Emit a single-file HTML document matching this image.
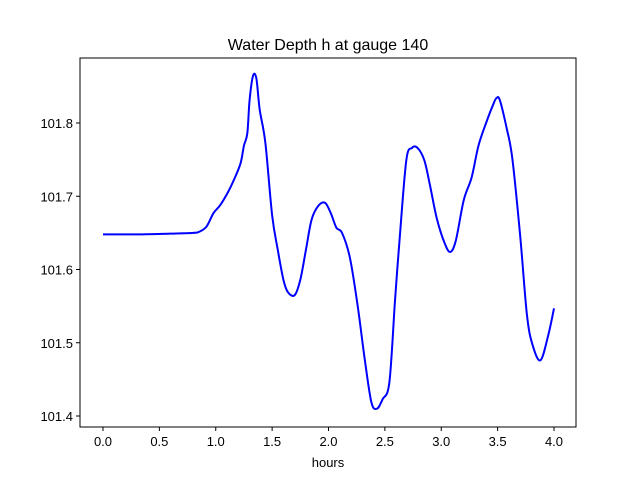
<!DOCTYPE html>
<html><head><meta charset="utf-8"><style>
body{margin:0;background:#fff}
svg{display:block;font-family:"Liberation Sans",sans-serif}
</style></head><body>
<svg id="chart" width="640" height="480">
<rect width="640" height="480" fill="#fff"/>
<text x="328" y="50" text-anchor="middle" font-size="16">Water Depth h at gauge 140</text>
<g id="plot"></g>
<rect x="80" y="58" width="496" height="369" fill="none" stroke="#000" stroke-width="1"/>
<text x="328" y="467" text-anchor="middle" font-size="13">hours</text>
</svg>
<script>
const xs=[0,0.3,0.6,0.8,0.86,0.92,0.98,1.04,1.11,1.16,1.22,1.25,1.28,1.30,1.33,1.36,1.39,1.44,1.50,1.55,1.60,1.64,1.70,1.75,1.80,1.85,1.91,1.97,2.02,2.07,2.12,2.19,2.26,2.32,2.38,2.43,2.48,2.54,2.59,2.63,2.69,2.74,2.79,2.85,2.90,2.96,3.03,3.08,3.13,3.20,3.27,3.33,3.40,3.46,3.49,3.52,3.58,3.63,3.70,3.76,3.81,3.88,3.95,4.00];
const ys=[101.648,101.648,101.649,101.650,101.652,101.659,101.677,101.688,101.706,101.722,101.745,101.769,101.786,101.831,101.864,101.861,101.818,101.773,101.674,101.627,101.586,101.569,101.565,101.586,101.627,101.668,101.687,101.691,101.677,101.657,101.650,101.616,101.549,101.479,101.419,101.410,101.423,101.446,101.558,101.640,101.749,101.766,101.766,101.749,101.715,101.670,101.636,101.624,101.640,101.695,101.726,101.769,101.801,101.825,101.834,101.831,101.793,101.752,101.646,101.538,101.497,101.476,101.511,101.547];
const xTicks=[0,0.5,1,1.5,2,2.5,3,3.5,4];
const xTickLabels=["0.0","0.5","1.0","1.5","2.0","2.5","3.0","3.5","4.0"];
const yTicks=[101.4,101.5,101.6,101.7,101.8];
const yTickLabels=["101.4","101.5","101.6","101.7","101.8"];
const X=v=>103+v*112.75, Y=v=>416-(v-101.4)*732.5;
const NS="http://www.w3.org/2000/svg", g=document.getElementById('plot');
xTicks.forEach((t,i)=>{
 const l=document.createElementNS(NS,'line');
 l.setAttribute('x1',X(t));l.setAttribute('x2',X(t));l.setAttribute('y1',427);l.setAttribute('y2',431);l.setAttribute('stroke','#000');
 
 
 g.appendChild(l);
 const tx=document.createElementNS(NS,'text');
 tx.setAttribute('x',X(t));tx.setAttribute('y',446);tx.setAttribute('text-anchor','middle');tx.setAttribute('font-size','13');tx.textContent=xTickLabels[i];
 
 
 g.appendChild(tx);
});
yTicks.forEach((t,i)=>{
 const l=document.createElementNS(NS,'line');
 l.setAttribute('x1',76);l.setAttribute('x2',80);l.setAttribute('y1',Y(t));l.setAttribute('y2',Y(t));l.setAttribute('stroke','#000');
 
 
 g.appendChild(l);
 const tx=document.createElementNS(NS,'text');
 tx.setAttribute('x',73);tx.setAttribute('y',Y(t)+5);tx.setAttribute('text-anchor','end');tx.setAttribute('font-size','13');tx.textContent=yTickLabels[i];
 
 
 g.appendChild(tx);
});
const P=xs.map((v,i)=>[X(v),Y(ys[i])]);
let d='M'+P[0][0]+','+P[0][1];
for(let i=0;i<P.length-1;i++){
 const p0=P[Math.max(0,i-1)],p1=P[i],p2=P[i+1],p3=P[Math.min(P.length-1,i+2)];
 const c1=[p1[0]+(p2[0]-p0[0])/6,p1[1]+(p2[1]-p0[1])/6];
 const c2=[p2[0]-(p3[0]-p1[0])/6,p2[1]-(p3[1]-p1[1])/6];
 d+=' C'+c1.join(',')+' '+c2.join(',')+' '+p2.join(',');
}
const p=document.createElementNS(NS,'path');
p.setAttribute('d',d);
p.setAttribute('fill','none');p.setAttribute('stroke','#0000ff');p.setAttribute('stroke-width','2');p.setAttribute('stroke-linejoin','round');


g.appendChild(p);
</script>
</body></html>
